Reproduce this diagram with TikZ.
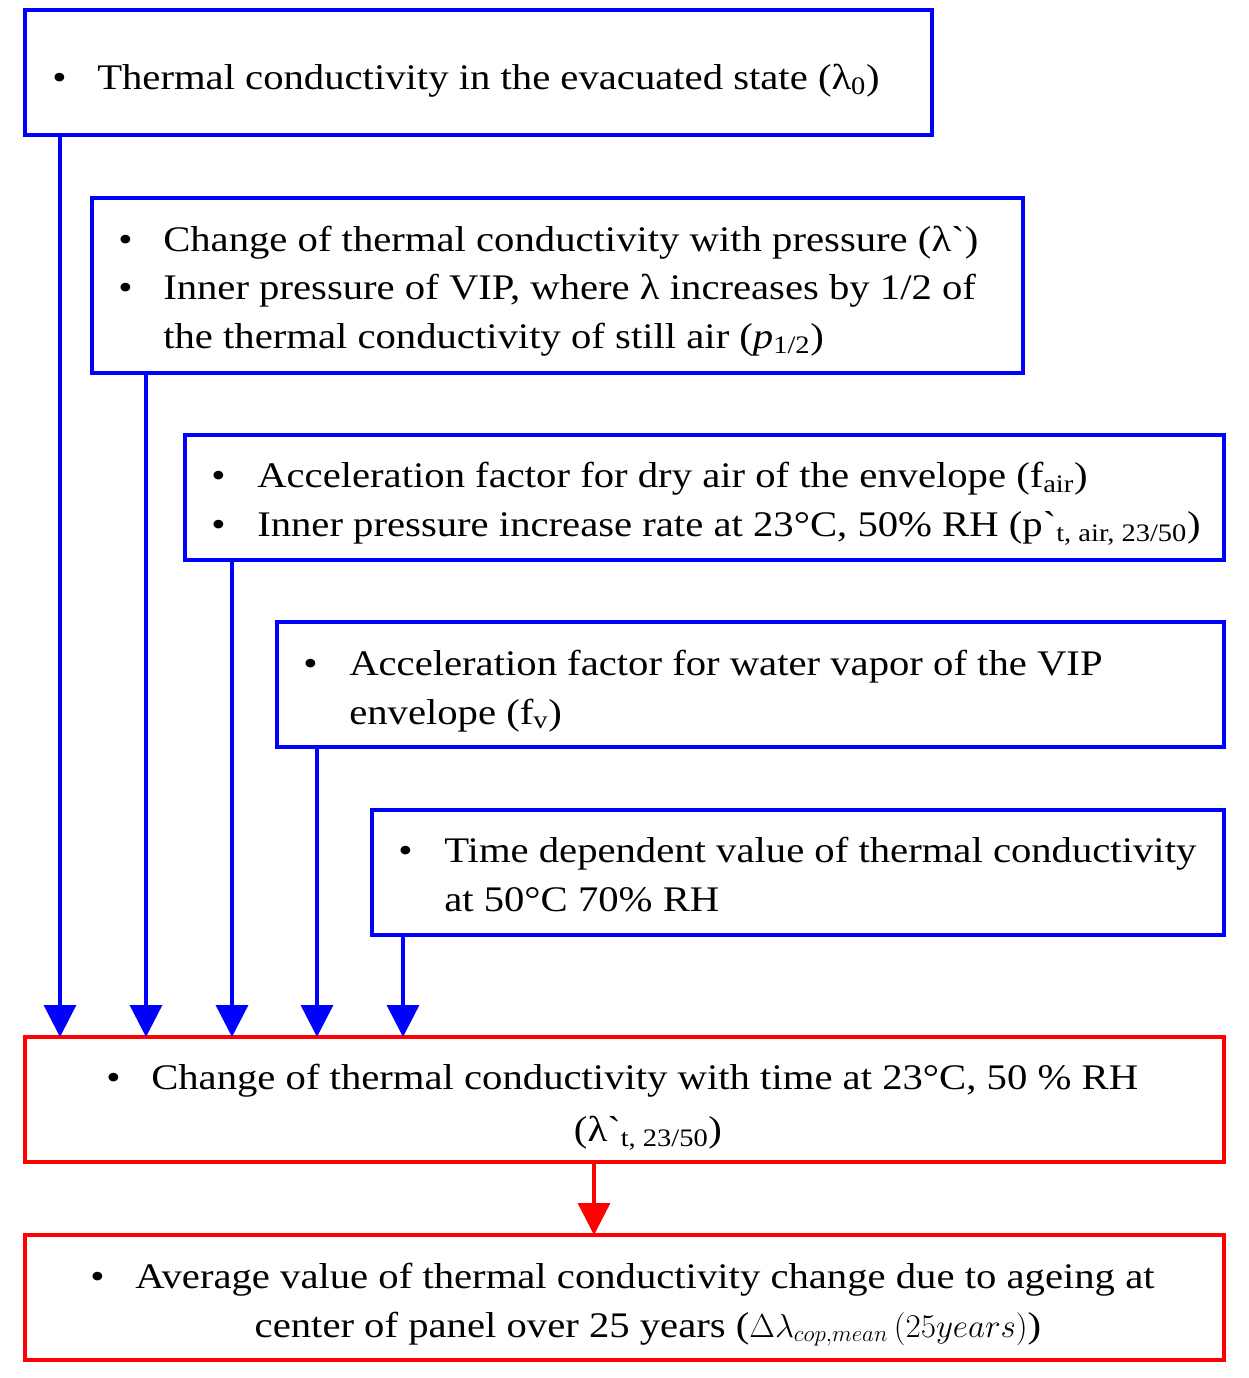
\documentclass[tikz,border=0pt]{standalone}
\usepackage{fontspec}
\setmainfont{Liberation Serif}[FakeStretch=1.13]
\newfontfamily\gf{Liberation Serif}[Ligatures=ResetAll,FakeStretch=1.13]
\usetikzlibrary{calc,arrows.meta}
\newcommand{\gr}{{\gf\char96}}
\begin{document}
\begin{tikzpicture}[x=0.75pt,y=-0.75pt,
  bbox/.style={draw=blue,line width=2.5pt,inner sep=0,outer sep=0,anchor=north west,minimum height=93.75pt},
  rbox/.style={bbox,draw=red},
  txt/.style={anchor=base west,inner sep=0,font=\fontsize{27}{36}\selectfont},
  ctxt/.style={txt,anchor=base},
  arr/.style={blue,line width=2.5pt,-{Triangle[width=24pt,length=24pt]}},
  rarr/.style={arr,red}]
\useasboundingbox (0,0) rectangle (1249,1378);
\node[bbox,minimum width=680.25pt] (b1) at (25,10) {};
\node[bbox,minimum width=698.25pt,minimum height=131.25pt] (b2) at (92,198) {};
\node[bbox,minimum width=779.25pt] (b3) at (185,435) {};
\node[bbox,minimum width=710.25pt] (b4) at (277,622) {};
\node[bbox,minimum width=639pt] (b5) at (372,810) {};
\node[rbox,minimum width=899.25pt] (r1) at (25,1037) {};
\node[rbox,minimum width=899.25pt] (r2) at (25,1235) {};
% texts
\node[txt] (u1) at (52,89) {\textbullet};
\node[txt] (t1) at (97,89) {Thermal conductivity in the evacuated state (λ\textsubscript{0})};
\node[txt] (u2) at (118,251) {\textbullet};
\node[txt] (t2) at (163,251) {Change of thermal conductivity with pressure (λ\gr)};
\node[txt] (u3) at (118,299) {\textbullet};
\node[txt] (t3) at (163,299) {Inner pressure of VIP, where λ increases by 1/2 of};
\node[txt] (t4) at (163,348) {the thermal conductivity of still air (\textit{p}\textsubscript{1/2})};
\node[txt] (u4) at (211,487) {\textbullet};
\node[txt] (t5) at (257,487) {Acceleration factor for dry air of the envelope (f\textsubscript{air})};
\node[txt] (u5) at (211,536) {\textbullet};
\node[txt] (t6) at (257,536) {Inner pressure increase rate at 23°C, 50\% RH (p\gr\textsubscript{t, air, 23/50})};
\node[txt] (u6) at (303,675) {\textbullet};
\node[txt] (t7) at (349,675) {Acceleration factor for water vapor of the VIP};
\node[txt] (t8) at (349,724) {envelope (f\textsubscript{v})};
\node[txt] (u7) at (398,862) {\textbullet};
\node[txt] (t9) at (444,862) {Time dependent value of thermal conductivity};
\node[txt] (t10) at (444,911) {at 50°C 70\% RH};
\node[txt] (u8) at (106,1089) {\textbullet};
\node[txt] (t11) at (151,1089) {Change of thermal conductivity with time at 23°C, 50 \% RH};
\node[ctxt] (t12) at (648,1141) {(λ\gr\textsubscript{t, 23/50})};
\node[txt] (u9) at (90,1288) {\textbullet};
\node[txt] (t13) at (135,1288) {Average value of thermal conductivity change due to ageing at};
\node[ctxt] (t14) at (648,1337) {center of panel over 25 years ($\Delta\lambda_{cop,mean}\,(25years)$)};
% arrows
\draw[arr] ($(b1.south west)+(35,0)$) -- ($(r1.north west)+(35,0)$);
\draw[arr] ($(b2.south west)+(54,0)$) -- ($(r1.north west)+(121,0)$);
\draw[arr] ($(b3.south west)+(47,0)$) -- ($(r1.north west)+(207,0)$);
\draw[arr] ($(b4.south west)+(40,0)$) -- ($(r1.north west)+(292,0)$);
\draw[arr] ($(b5.south west)+(31,0)$) -- ($(r1.north west)+(378,0)$);
\draw[rarr] ($(r1.south west)+(569,0)$) -- ($(r2.north west)+(569,0)$);
\end{tikzpicture}
\end{document}
